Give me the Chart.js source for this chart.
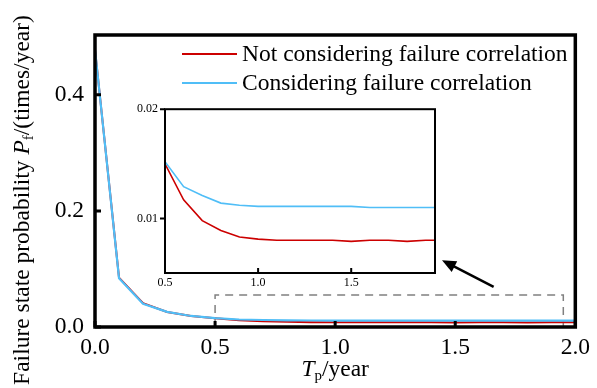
<!DOCTYPE html>
<html>
<head>
<meta charset="utf-8">
<script src="https://cdn.jsdelivr.net/npm/chart.js@4"></script>
<style>
  html, body { margin: 0; padding: 0; background: #fff; }
  #wrap { position: relative; width: 597px; height: 388px; }
  #main { position: absolute; left: 0; top: 0; }
  #inset { position: absolute; left: 120px; top: 95px; }
  .probe { font-family: "Liberation Serif"; position: absolute; left: -999px; }
</style>
</head>
<body>
<div id="wrap">
  <canvas id="main" width="597" height="388"></canvas>
  <canvas id="inset" width="325" height="200"></canvas>
</div>
<span class="probe">0.5 Tp <i>P</i></span>
<script>
/* Data */
var TP = [0.0, 0.1, 0.2, 0.3, 0.4, 0.5, 0.6, 0.7, 0.8, 0.9, 1.0,
          1.1, 1.2, 1.3, 1.4, 1.5, 1.6, 1.7, 1.8, 1.9, 2.0];
var NOT_CORR = [0.478, 0.085, 0.041, 0.026, 0.019, 0.0150, 0.0117, 0.0098, 0.0089, 0.0083, 0.0081,
                0.0080, 0.0080, 0.0080, 0.0080, 0.0079, 0.0080, 0.0080, 0.0079, 0.0080, 0.0080];
var CORR     = [0.478, 0.084, 0.040, 0.026, 0.019, 0.0152, 0.0129, 0.0121, 0.0114, 0.0112, 0.0111,
                0.0111, 0.0111, 0.0111, 0.0111, 0.0111, 0.0110, 0.0110, 0.0110, 0.0110, 0.0110];

var LABELS = ['Not considering failure correlation', 'Considering failure correlation'];

var MAIN_X_TICKS = [0.0, 0.5, 1.0, 1.5, 2.0];
var MAIN_Y_TICKS = [0.0, 0.2, 0.4];
var INSET_X_TICKS = [0.5, 1.0, 1.5];
var INSET_Y_TICKS = [0.01, 0.02];

/* zoom region marked on the main chart, and the arrow pointing at the inset */
var ZOOM_X = [0.5, 1.95];
var ZOOM_Y = [0.0, 0.055];
var ARROW_FROM = [1.66, 0.069];
var ARROW_TO   = [1.445, 0.115];

var RED  = '#CC0000';
var BLUE = '#50BEF7';
var SERIF = '"Liberation Serif"';

function points(ys) {
  return TP.map(function (x, i) { return { x: x, y: ys[i] }; });
}

function drawRich(ctx, parts, x, y) {
  var total = 0;
  parts.forEach(function (p) { ctx.font = p.font; total += ctx.measureText(p.t).width; });
  var cx = x - total / 2;
  ctx.textAlign = 'left';
  ctx.textBaseline = 'middle';
  parts.forEach(function (p) {
    ctx.font = p.font;
    ctx.fillText(p.t, cx, y + (p.dy || 0));
    cx += ctx.measureText(p.t).width;
  });
}

var mainDecor = {
  id: 'mainDecor',
  beforeDatasetsDraw: function (chart) {
    var ctx = chart.ctx, xs = chart.scales.x, ys = chart.scales.y;
    var l = xs.getPixelForValue(ZOOM_X[0]), r = xs.getPixelForValue(ZOOM_X[1]);
    var t = ys.getPixelForValue(ZOOM_Y[1]), b = ys.getPixelForValue(ZOOM_Y[0]);
    ctx.save();
    ctx.strokeStyle = '#808080';
    ctx.lineWidth = 1.5;
    ctx.setLineDash([8, 6]);
    ctx.beginPath();
    ctx.moveTo(l, b); ctx.lineTo(l, t); ctx.lineTo(r, t); ctx.lineTo(r, b);
    ctx.stroke();
    ctx.restore();
  },
  afterDraw: function (chart) {
    var ctx = chart.ctx, a = chart.chartArea;
    var xs = chart.scales.x, ys = chart.scales.y;
    ctx.save();
    /* frame */
    ctx.strokeStyle = '#000';
    ctx.lineWidth = 3.5;
    ctx.strokeRect(a.left, a.top, a.right - a.left, a.bottom - a.top);
    /* inward ticks */
    ctx.lineWidth = 3;
    ctx.beginPath();
    MAIN_X_TICKS.forEach(function (v) {
      var px = xs.getPixelForValue(v);
      ctx.moveTo(px, a.bottom); ctx.lineTo(px, a.bottom - 6);
    });
    MAIN_Y_TICKS.forEach(function (v) {
      var py = ys.getPixelForValue(v);
      ctx.moveTo(a.left, py); ctx.lineTo(a.left + 6, py);
    });
    ctx.stroke();

    /* arrow */
    var x0 = xs.getPixelForValue(ARROW_FROM[0]), y0 = ys.getPixelForValue(ARROW_FROM[1]);
    var x1 = xs.getPixelForValue(ARROW_TO[0]),   y1 = ys.getPixelForValue(ARROW_TO[1]);
    var ang = Math.atan2(y1 - y0, x1 - x0);
    var hl = 14, hw = 6;
    ctx.lineWidth = 2.5;
    ctx.beginPath();
    ctx.moveTo(x0, y0);
    ctx.lineTo(x1 - Math.cos(ang) * hl * 0.8, y1 - Math.sin(ang) * hl * 0.8);
    ctx.stroke();
    ctx.fillStyle = '#000';
    ctx.beginPath();
    ctx.moveTo(x1, y1);
    ctx.lineTo(x1 - Math.cos(ang) * hl - Math.sin(ang) * hw, y1 - Math.sin(ang) * hl + Math.cos(ang) * hw);
    ctx.lineTo(x1 - Math.cos(ang) * hl + Math.sin(ang) * hw, y1 - Math.sin(ang) * hl - Math.cos(ang) * hw);
    ctx.closePath();
    ctx.fill();

    /* legend */
    var legY = [a.top + 19, a.top + 48];
    var colors = [RED, BLUE];
    ctx.lineWidth = 2.2;
    LABELS.forEach(function (txt, i) {
      ctx.strokeStyle = colors[i];
      ctx.beginPath();
      ctx.moveTo(a.left + 87, legY[i]); ctx.lineTo(a.left + 142, legY[i]);
      ctx.stroke();
      ctx.fillStyle = '#000';
      ctx.font = '23.5px ' + SERIF;
      ctx.textAlign = 'left';
      ctx.textBaseline = 'middle';
      ctx.fillText(txt, a.left + 147, legY[i] + 1);
    });

    /* x title */
    ctx.fillStyle = '#000';
    drawRich(ctx, [
      { t: 'T', font: 'italic 23.5px ' + SERIF },
      { t: 'p', font: '15px ' + SERIF, dy: 6 },
      { t: '/year', font: '23.5px ' + SERIF }
    ], xs.getPixelForValue(1.0), 370);

    /* y title */
    ctx.translate(23, 200);
    ctx.rotate(-Math.PI / 2);
    drawRich(ctx, [
      { t: 'Failure state probability ', font: '23.5px ' + SERIF },
      { t: 'P', font: 'italic 23.5px ' + SERIF },
      { t: 'f', font: '15px ' + SERIF, dy: 6 },
      { t: '/(times/year)', font: '23.5px ' + SERIF }
    ], 0, 0);
    ctx.restore();
  }
};

var insetDecor = {
  id: 'insetDecor',
  afterDraw: function (chart) {
    var ctx = chart.ctx, a = chart.chartArea;
    var xs = chart.scales.x, ys = chart.scales.y;
    ctx.save();
    ctx.strokeStyle = '#000';
    ctx.lineWidth = 2;
    ctx.strokeRect(a.left, a.top, a.right - a.left, a.bottom - a.top);
    ctx.beginPath();
    INSET_X_TICKS.forEach(function (v) {
      var px = xs.getPixelForValue(v);
      ctx.moveTo(px, a.bottom); ctx.lineTo(px, a.bottom - 5);
    });
    INSET_Y_TICKS.forEach(function (v) {
      var py = ys.getPixelForValue(v);
      ctx.moveTo(a.left, py); ctx.lineTo(a.left - 5, py);
    });
    ctx.stroke();
    ctx.restore();
  }
};

function ticksFrom(list) {
  return function (scale) { scale.ticks = list.map(function (v) { return { value: v }; }); };
}

var NO_GRID = { display: false, drawTicks: false, tickLength: 0 };

function build() {
  new Chart(document.getElementById('main').getContext('2d'), {
    type: 'line',
    data: {
      datasets: [
        { label: LABELS[1], data: points(CORR), borderColor: BLUE, borderWidth: 2.2,
          pointRadius: 0, tension: 0, fill: false, order: 0 },
        { label: LABELS[0], data: points(NOT_CORR), borderColor: RED, borderWidth: 2,
          pointRadius: 0, tension: 0, fill: false, order: 1 }
      ]
    },
    options: {
      responsive: false,
      animation: false,
      layout: { padding: { left: 0, right: 18, top: 35, bottom: 0 } },
      plugins: { legend: { display: false }, tooltip: { enabled: false } },
      scales: {
        x: {
          type: 'linear', min: 0, max: 2.0,
          afterBuildTicks: ticksFrom(MAIN_X_TICKS),
          afterFit: function (s) { s.height = 61; },
          grid: NO_GRID, border: { display: false },
          ticks: { color: '#000', padding: 7, maxRotation: 0,
                   font: { family: SERIF, size: 23.5 },
                   callback: function (v) { return v.toFixed(1); } }
        },
        y: {
          type: 'linear', min: 0, max: 0.503,
          afterBuildTicks: ticksFrom(MAIN_Y_TICKS),
          afterFit: function (s) { s.width = 95; },
          grid: NO_GRID, border: { display: false },
          ticks: { color: '#000', padding: 11,
                   font: { family: SERIF, size: 23.5 },
                   callback: function (v) { return v.toFixed(1); } }
        }
      }
    },
    plugins: [mainDecor]
  });

  new Chart(document.getElementById('inset').getContext('2d'), {
    type: 'line',
    data: {
      datasets: [
        { label: LABELS[1], data: points(CORR), borderColor: BLUE, borderWidth: 1.6,
          pointRadius: 0, tension: 0, fill: false, order: 0 },
        { label: LABELS[0], data: points(NOT_CORR), borderColor: RED, borderWidth: 1.6,
          pointRadius: 0, tension: 0, fill: false, order: 1 }
      ]
    },
    options: {
      responsive: false,
      animation: false,
      layout: { padding: { left: 0, right: 10, top: 8, bottom: 0 } },
      plugins: { legend: { display: false }, tooltip: { enabled: false } },
      scales: {
        x: {
          type: 'linear', min: 0.5, max: 1.95,
          afterBuildTicks: ticksFrom(INSET_X_TICKS),
          afterFit: function (s) { s.height = 22; },
          grid: NO_GRID, border: { display: false },
          ticks: { color: '#000', padding: 3, maxRotation: 0,
                   font: { family: SERIF, size: 12 },
                   callback: function (v) { return v.toFixed(1); } }
        },
        y: {
          type: 'linear', min: 0.005, max: 0.02,
          afterBuildTicks: ticksFrom(INSET_Y_TICKS),
          afterFit: function (s) { s.width = 45; },
          grid: NO_GRID, border: { display: false },
          ticks: { color: '#000', padding: 7,
                   font: { family: SERIF, size: 12 },
                   callback: function (v) { return v.toFixed(2); } }
        }
      }
    },
    plugins: [insetDecor]
  });
}

Promise.all([
  document.fonts.load('23px "Liberation Serif"'),
  document.fonts.load('italic 23px "Liberation Serif"')
]).then(build, build);
</script>
</body>
</html>
